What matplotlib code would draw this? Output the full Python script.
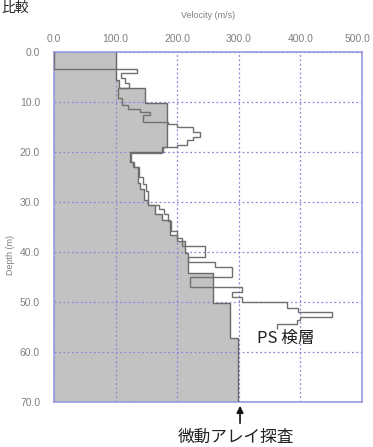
import matplotlib
matplotlib.use("Agg")
import matplotlib.pyplot as plt
import matplotlib.transforms as mtransforms
import numpy as np

# Microtremor array profile (gray fill): layer top depths (m) and Vs (m/s)
array_tops = [0, 5.6, 7.1, 10.1, 19.0, 19.9, 21.9, 22.9, 26.2, 27.3, 29.6, 30.6,
              32.3, 33.6, 36.6, 37.7, 40.1, 44.2, 50.2, 57.2]
array_bottom = 70.0
array_vs = [100, 105, 148, 184, 177, 123, 130, 136, 140, 146, 153, 164,
            175, 188, 200, 213, 218, 258, 286, 299]

# PS logging profile (line)
ps_tops = [0, 3.4, 4.2, 5.1, 6.1, 7.2, 9.1, 10.6, 11.3, 12.0, 12.6, 14.0, 14.3,
           15.0, 16.0, 17.0, 17.6, 18.6, 19.0, 20.2, 21.9, 22.9, 24.9, 26.3,
           27.8, 30.6, 31.3, 32.3, 33.7, 35.7, 37.2, 38.7, 41.0, 42.0, 43.0,
           45.0, 47.0, 48.0, 48.9, 50.0, 51.2, 52.0, 53.0, 53.5, 54.4]
ps_bottom = 55.4
ps_vs = [0, 135, 108, 115, 122, 104, 110, 120, 140, 156, 145, 185, 200,
         226, 237, 226, 216, 200, 175, 125, 128, 138, 145, 150,
         153, 170, 178, 185, 190, 200, 208, 245, 218, 261, 289,
         221, 305, 289, 305, 378, 396, 451, 399, 394, 362]

x_ticks = [0, 100, 200, 300, 400, 500]
x_labels = ["0.0", "100.0", "200.0", "300.0", "400.0", "500.0"]
y_ticks = [0, 10, 20, 30, 40, 50, 60, 70]
y_labels = ["0.0", "10.0", "20.0", "30.0", "40.0", "50.0", "60.0", "70.0"]

plt.rcParams['font.family'] = ['Noto Sans CJK JP', 'DejaVu Sans']
tickfont = ['Liberation Sans', 'DejaVu Sans']

fig = plt.figure(figsize=(3.73, 4.47), dpi=100)
ax = fig.add_axes([54/373, 1-402/447, (362-54)/373, (402-52)/447])

ax.stairs(array_vs, array_tops + [array_bottom], orientation='horizontal',
          fill=True, baseline=0, color='#c2c2c2', zorder=1)
ax.stairs(array_vs, array_tops + [array_bottom], orientation='horizontal',
          baseline=None, color='#6a6a6a', lw=1.0, zorder=3)
ax.stairs(ps_vs, ps_tops + [ps_bottom], orientation='horizontal',
          baseline=None, color='#707070', lw=1.0, zorder=3)

ax.set_xlim(0, 500)
ax.set_ylim(70, 0)
ax.xaxis.tick_top()
ax.xaxis.set_label_position('top')
ax.set_xticks(x_ticks)
ax.set_xticklabels(x_labels, family=tickfont)
ax.set_yticks(y_ticks)
ax.set_yticklabels(y_labels, family=tickfont)
ax.tick_params(length=0, labelsize=7.5, labelcolor='#808080')
ax.tick_params(axis='x', pad=6)
ax.tick_params(axis='y', pad=10)
last = ax.get_xticklabels()[-1]
last.set_transform(last.get_transform() +
                   mtransforms.ScaledTranslation(-4/100, 0, fig.dpi_scale_trans))
ax.grid(True, color='#8888dd', linestyle=(0, (1.5, 2)), lw=0.9, zorder=2)
for s in ax.spines.values():
    s.set_color('#9999e0')
    s.set_linewidth(1.2)
ax.set_xlabel('Velocity (m/s)', fontsize=6.5, color='#808080', labelpad=11,
              family=tickfont)
ax.set_ylabel('Depth (m)', fontsize=6.5, color='#808080', family=tickfont)
ax.yaxis.set_label_coords(-0.127, 0.42)

ax.text(377, 57.2, 'PS 検層', fontsize=12, color='#222222', ha='center',
        va='center', zorder=5)
ax.annotate('', xy=(302, 70.2), xytext=(302, 74.8), annotation_clip=False,
            arrowprops=dict(arrowstyle='-|>', color='#111111', lw=1.2,
                            mutation_scale=10))
ax.text(296, 77.0, '微動アレイ探査', fontsize=12, color='#222222',
        ha='center', va='center', clip_on=False)

fig.text(0.003, 0.997, '比較', fontsize=10, color='#222222', ha='left', va='top')

fig.savefig('out.png', dpi=100)
